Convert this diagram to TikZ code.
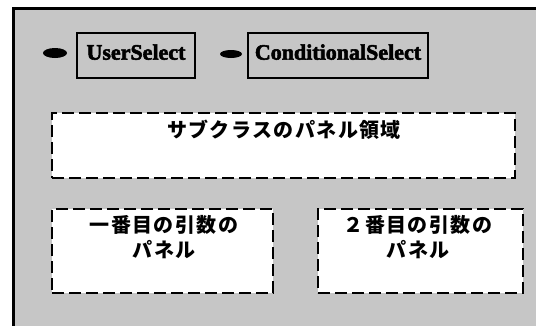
\documentclass[tikz,border=0pt]{standalone}
\usepackage{fontspec}
\usetikzlibrary{shapes.geometric}
\newfontfamily\jp{Noto Sans CJK JP}[LetterSpace=7]
\newfontfamily\latb{Liberation Serif}[BoldFeatures={FakeBold=2.5}]
\begin{document}
\begin{tikzpicture}[x=1pt,y=-1pt,
  selbox/.style={draw, line width=2.5pt, fill=gray!45, inner sep=0pt,
    minimum height=45pt, text depth=7pt,
    font=\latb\bfseries\fontsize{22}{24}\selectfont},
  dbox/.style={draw, line width=2.5pt, dash pattern=on 12pt off 5pt,
    fill=white, inner sep=0pt},
  jlab/.style={font=\jp\bfseries\fontsize{20}{25}\selectfont, align=center,
    inner sep=0pt},
  blob/.style={ellipse, fill=black, inner sep=0pt}]
\useasboundingbox (0,0) rectangle (536,325);
\fill[white] (0,0) rectangle (536,325);
\draw[fill=gray!45, line width=3pt] (13.5,8.5) rectangle (560,345);
% selector row
\node[blob, minimum width=24pt, minimum height=10pt] (e1) at (55,53) {};
\node[selbox, minimum width=118pt] (us) at (136,55.5) {UserSelect};
\node[blob, minimum width=22pt, minimum height=8pt] (e2) at (231,54) {};
\node[selbox, minimum width=180pt] (cs) at (338,55.5) {ConditionalSelect};
% dashed panels
\node[dbox, minimum width=463pt, minimum height=65pt] (p0) at (283.5,145.5) {};
\node[jlab] (t0) at (284,130) {サブクラスのパネル領域};
\node[dbox, minimum width=221pt, minimum height=84pt] (p1) at (162.5,251) {};
\node[jlab] (t1) at (164,237.5) {一番目の引数の\\パネル};
\node[dbox, minimum width=205pt, minimum height=84pt] (p2) at (420.5,251) {};
\node[jlab] (t2) at (418,237.5) {２番目の引数の\\パネル};
\end{tikzpicture}
\end{document}
